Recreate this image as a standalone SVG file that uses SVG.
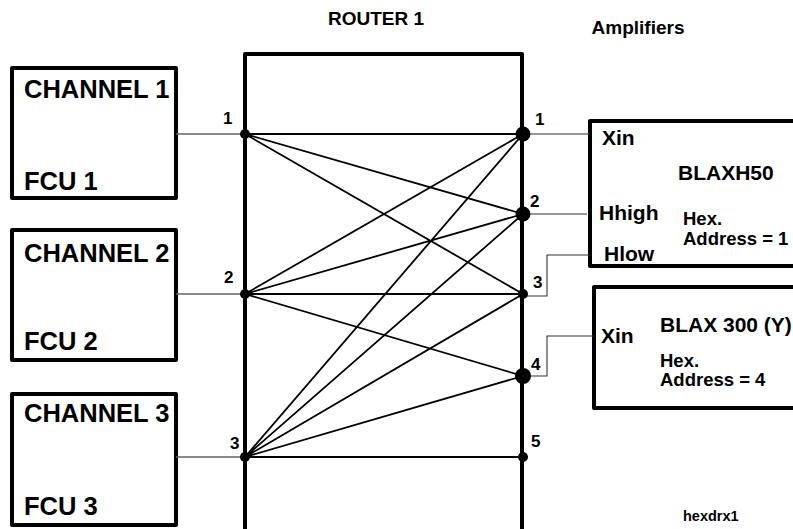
<svg xmlns="http://www.w3.org/2000/svg" width="793" height="529" viewBox="0 0 793 529">
<style>
text{font-family:"Liberation Sans",Arial,sans-serif;font-weight:bold;fill:#000}
.box{fill:#fff;stroke:#000;stroke-width:4;stroke-linejoin:round}
.big{font-size:25.5px}
.num{font-size:17px}
.lbl{font-size:21px}
.sm{font-size:18.5px}
.ttl{font-size:19px}
.wire{stroke:#000;stroke-width:1.8;fill:none}
.feed{stroke:#666;stroke-width:1.3;fill:none}
.tap{stroke:#333;stroke-width:1.1;fill:none}
</style>
<rect width="793" height="529" fill="#fff"/>
<text class="ttl" x="376" y="25" text-anchor="middle">ROUTER 1</text>
<text class="ttl" x="638" y="34" text-anchor="middle">Amplifiers</text>
<text x="683" y="521" style="font-size:14.5px">hexdrx1</text>

<g id="router1">
<path class="box" d="M245,531 V54 H522 V531" fill="none"/>
</g>

<g id="channel1">
<rect class="box" x="12" y="68" width="164" height="130"/>
<text class="big" x="24" y="98">CHANNEL 1</text>
<text class="big" x="24" y="190">FCU 1</text>
</g>
<g id="channel2">
<rect class="box" x="12" y="230" width="164" height="130"/>
<text class="big" x="24" y="262">CHANNEL 2</text>
<text class="big" x="24" y="350">FCU 2</text>
</g>
<g id="channel3">
<rect class="box" x="12" y="394" width="164" height="131" fill="none" style="fill:none"/>
<text class="big" x="24" y="422">CHANNEL 3</text>
<text class="big" x="24" y="515">FCU 3</text>
</g>

<g id="blaxh50">
<rect class="box" x="590" y="121" width="230" height="145"/>
<text class="lbl" x="602" y="145">Xin</text>
<text class="lbl" x="678" y="180">BLAXH50</text>
<text class="lbl" x="599" y="220">Hhigh</text>
<text class="sm" x="683" y="225">Hex.</text>
<text class="sm" x="683" y="245">Address = 1</text>
<text class="lbl" x="604" y="261">Hlow</text>
</g>
<g id="blax300">
<rect class="box" x="594" y="287" width="230" height="121"/>
<text class="lbl" x="601" y="343">Xin</text>
<text class="lbl" x="660" y="332">BLAX 300 (Y)</text>
<text class="sm" x="660" y="367">Hex.</text>
<text class="sm" x="660" y="386">Address = 4</text>
</g>

<g id="connectors">
<path class="feed" d="M176,134 H245 M176,294 H245 M176,457 H245"/>
<path class="wire" d="M245,134 L523,134 M245,134 L523,214 M245,134 L523,294
M245,294 L523,134 M245,294 L523,214 M245,294 L523,294 M245,294 L523,376
M245,457 L523,134 M245,457 L523,214 M245,457 L523,294 M245,457 L523,376 M245,457 L523,457"/>
<path class="tap" d="M523,134 H590 M523,214 H587 M523,296 H547 V255 H590 M523,376 H547 V336 H594"/>
</g>

<g id="junctions">
<circle cx="245" cy="134" r="5"/>
<circle cx="245" cy="294" r="5"/>
<circle cx="245" cy="457" r="5"/>
<circle cx="523" cy="134" r="7.5"/>
<circle cx="523" cy="214" r="7.5"/>
<circle cx="523" cy="294" r="5"/>
<circle cx="523" cy="376" r="8"/>
<circle cx="523" cy="457" r="5"/>
</g>

<g id="port-labels">
<text class="num" x="223" y="124">1</text>
<text class="num" x="224" y="283">2</text>
<text class="num" x="230" y="449">3</text>
<text class="num" x="535" y="125">1</text>
<text class="num" x="530" y="207">2</text>
<text class="num" x="533" y="288">3</text>
<text class="num" x="531" y="370">4</text>
<text class="num" x="531" y="447">5</text>
</g>
</svg>
